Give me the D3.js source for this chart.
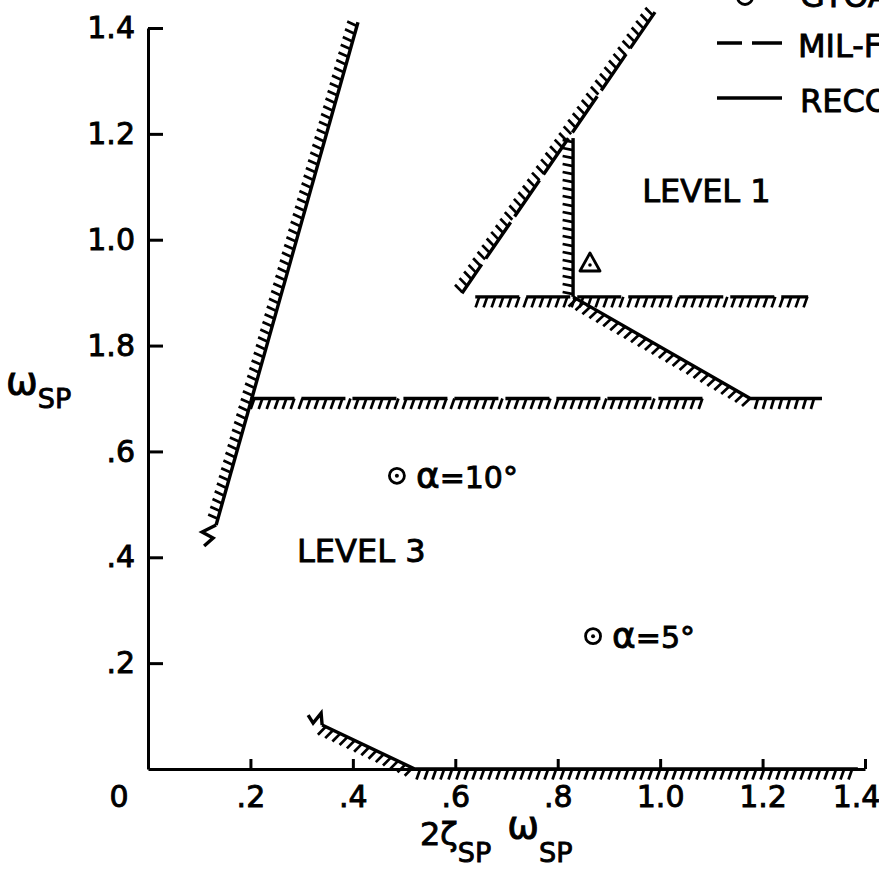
<!DOCTYPE html>
<html><head><meta charset="utf-8">
<script src="https://cdn.jsdelivr.net/npm/d3@7"></script>
<style>
body{margin:0;background:#fff;overflow:hidden;}
text{font-family:"DejaVu Sans",sans-serif;fill:#000;stroke:#000;stroke-width:0.9px;}
</style></head><body>
<svg id="c" width="879" height="880"></svg>
<script>
// ---- tick data ----
const xTicks = [0.2, 0.4, 0.6, 0.8, 1.0, 1.2, 1.4];
const xTickLabels = [".2", ".4", ".6", ".8", "1.0", "1.2", "1.4"];
const yTicks = [0.2, 0.4, 0.6, 0.8, 1.0, 1.2, 1.4];
const yTickLabels = [".2", ".4", ".6", "1.8", "1.0", "1.2", "1.4"];

// ---- boundary lines (x = 2ζω, y = ω), ordered so hatching lies on the right-hand side ----
const recLeft   = [[0.410, 1.411], [0.133, 0.461]];
const milLevel3 = [[0.200, 0.700], [1.088, 0.700]];
const milDiag   = [[0.990, 1.430], [0.613, 0.899]];
const milLevel1 = [[0.639, 0.892], [1.289, 0.892]];
const recVert   = [[0.830, 1.192], [0.830, 0.892]];
const recRight  = [[0.830, 0.892], [1.176, 0.700], [1.316, 0.700]];
const recBottom = [[0.340, 0.083], [0.521, 0.000], [1.386, 0.000]];

// ---- data points ----
const circleX = [0.486, 0.869];
const circleY = [0.554, 0.251];
const circleLabels = ["10°", "5°"];
const triX = [0.863];
const triY = [0.956];

// ---- region labels ----
const regionNames = ["LEVEL 1", "LEVEL 3"];
const regionX = [0.965, 0.291];
const regionY = [1.071, 0.391];

const svg = d3.select("#c");
const x = d3.scaleLinear().domain([0, 1.4]).range([148, 865]);
const y = d3.scaleLinear().domain([0, 1.4]).range([769, 28]);

// axes
const gx = svg.append("g").attr("transform", `translate(0,${y(0)})`)
  .call(d3.axisBottom(x).tickValues(xTicks).tickFormat((d, i) => xTickLabels[i])
    .tickSize(-10).tickSizeOuter(0).tickPadding(17));
const gy = svg.append("g").attr("transform", `translate(${x(0)},0)`)
  .call(d3.axisLeft(y).tickValues(yTicks).tickFormat((d, i) => yTickLabels[i])
    .tickSize(-15).tickSizeOuter(0).tickPadding(13));
[gx, gy].forEach(g => {
  g.attr("font-family", "DejaVu Sans").attr("font-size", 30);
  g.selectAll("path,line").attr("stroke", "#000").attr("stroke-width", 3);
});
gx.selectAll(".tick text").attr("dx", (d, i) => i === xTicks.length - 1 ? -9 : 0);
svg.append("text").attr("x", x(0) - 29).attr("y", y(0) + 17).attr("dy", "0.71em")
  .attr("text-anchor", "middle").attr("font-size", 30).text("0");

// hatched boundary helper
function hatched(pts, dashed, slant) {
  const p = pts.map(d => [x(d[0]), y(d[1])]);
  svg.append("path").attr("d", d3.line()(p)).attr("fill", "none")
    .attr("stroke", "#000").attr("stroke-width", 3.4)
    .attr("stroke-dasharray", dashed ? "44,7" : null);
  const spacing = 8, len = 10.5;
  let path = "", carry = spacing / 2;
  for (let i = 0; i < p.length - 1; i++) {
    const [x0, y0] = p[i], [x1, y1] = p[i + 1];
    const L = Math.hypot(x1 - x0, y1 - y0);
    const dx = (x1 - x0) / L, dy = (y1 - y0) / L;
    const nx = -dy, ny = dx;
    const hx = (nx - slant * dx) * len, hy = (ny - slant * dy) * len;
    let s = carry;
    for (; s <= L; s += spacing) {
      const px = x0 + dx * s, py = y0 + dy * s;
      path += `M${px.toFixed(1)},${py.toFixed(1)}l${hx.toFixed(1)},${hy.toFixed(1)}`;
    }
    carry = s - L;
  }
  svg.append("path").attr("d", path).attr("stroke", "#000").attr("stroke-width", 2.7)
    .attr("fill", "none");
}
hatched(recLeft, false, 0.15);
hatched(milLevel3, true, 0.35);
hatched(milDiag, true, 0.2);
hatched(milLevel1, true, 0.35);
hatched(recVert, false, 0.2);
hatched(recRight, false, 0.3);
hatched(recBottom, false, 0.35);

// break (zigzag) symbols at the open ends
function zigzag(pt, offs) {
  const px = x(pt[0]), py = y(pt[1]);
  const pts = [[px, py]].concat(offs.map(o => [px + o[0], py + o[1]]));
  svg.append("path").attr("d", d3.line()(pts)).attr("fill", "none")
    .attr("stroke", "#000").attr("stroke-width", 3.4).attr("stroke-linejoin", "miter");
}
zigzag(recLeft[1], [[-14, 7], [-3, 13], [-12, 21]]);
zigzag(recBottom[0], [[-1, -12], [-9, -2], [-14, -10]]);

// circle-dot points
circleX.forEach((cx, i) => {
  const px = x(cx), py = y(circleY[i]);
  svg.append("circle").attr("cx", px).attr("cy", py).attr("r", 7.5)
    .attr("fill", "none").attr("stroke", "#000").attr("stroke-width", 2.8);
  svg.append("circle").attr("cx", px).attr("cy", py).attr("r", 2).attr("fill", "#000");
  const t = svg.append("text").attr("x", px + 19).attr("y", py + 12).attr("font-size", 30);
  t.append("tspan").attr("font-size", 36).text("α");
  t.append("tspan").text("=" + circleLabels[i]);
});
// triangle point
triX.forEach((tx, i) => {
  const px = x(tx), py = y(triY[i]);
  svg.append("path").attr("d", `M${px},${py - 10}L${px + 10},${py + 8}L${px - 10},${py + 8}Z`)
    .attr("fill", "none").attr("stroke", "#000").attr("stroke-width", 2.8).attr("stroke-linejoin", "round");
  svg.append("circle").attr("cx", px).attr("cy", py + 2).attr("r", 1.8).attr("fill", "#000");
});

// region labels
regionNames.forEach((n, i) => {
  svg.append("text").attr("x", x(regionX[i])).attr("y", y(regionY[i]))
    .attr("font-size", 32).text(n);
});

// axis titles
const xt = svg.append("text").attr("x", 420).attr("y", 845).attr("font-size", 32);
xt.append("tspan").text("2ζ");
xt.append("tspan").attr("font-size", 27).attr("dy", 17).text("SP");
xt.append("tspan").attr("font-size", 38).attr("dx", 16).attr("dy", -24).text("ω");
xt.append("tspan").attr("font-size", 27).attr("dy", 24).text("SP");

const yt = svg.append("text").attr("x", 6).attr("y", 394).attr("font-size", 38);
yt.append("tspan").text("ω");
yt.append("tspan").attr("font-size", 27).attr("dy", 14).text("SP");

// legend (partly outside the frame, as in the reference)
const legX1 = 717, legX2 = 782;
svg.append("circle").attr("cx", 745).attr("cy", -3).attr("r", 7.5)
  .attr("fill", "none").attr("stroke", "#000").attr("stroke-width", 2.8);
svg.append("text").attr("x", 800).attr("y", 7).attr("font-size", 32).text("GTOA");
svg.append("line").attr("x1", legX1).attr("x2", legX2).attr("y1", 43).attr("y2", 43)
  .attr("stroke", "#000").attr("stroke-width", 3.4).attr("stroke-dasharray", "25,10,30");
svg.append("text").attr("x", 798).attr("y", 57).attr("font-size", 32).text("MIL-F-8785C");
svg.append("line").attr("x1", legX1).attr("x2", legX2).attr("y1", 98).attr("y2", 98)
  .attr("stroke", "#000").attr("stroke-width", 3.4);
svg.append("text").attr("x", 800).attr("y", 112).attr("font-size", 32).text("RECOMMENDED");
</script>
</body></html>
